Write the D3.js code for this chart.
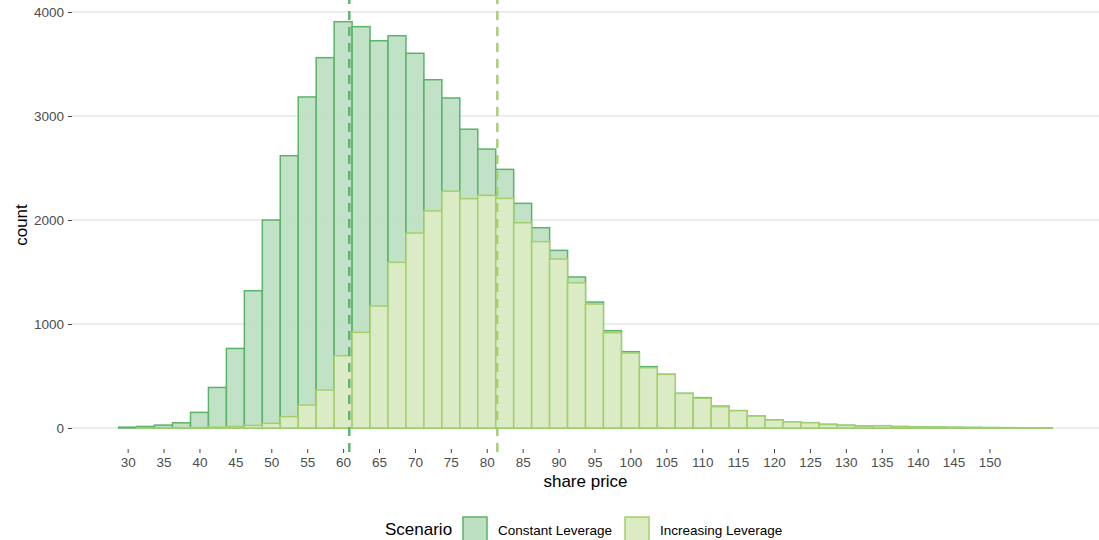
<!DOCTYPE html>
<html>
<head>
<meta charset="utf-8">
<script src="https://cdn.jsdelivr.net/npm/d3@7"></script>
<style>
  html, body { margin: 0; padding: 0; background: #fff; }
  svg { display: block; font-family: "Liberation Sans", Arial, sans-serif; }
</style>
</head>
<body>
<div id="chart"></div>
<script>
/* share price histogram: two leverage scenarios, bins 2.5 wide */
const priceBins = [30, 32.5, 35, 37.5, 40, 42.5, 45, 47.5, 50, 52.5, 55, 57.5, 60, 62.5, 65, 67.5,
  70, 72.5, 75, 77.5, 80, 82.5, 85, 87.5, 90, 92.5, 95, 97.5, 100, 102.5, 105, 107.5,
  110, 112.5, 115, 117.5, 120, 122.5, 125, 127.5, 130, 132.5, 135, 137.5, 140, 142.5,
  145, 147.5, 150, 152.5, 155, 157.5];
const constantCounts = [8, 15, 28, 50, 150, 390, 765, 1320, 2000, 2618, 3183, 3561, 3907, 3859, 3724, 3772,
  3603, 3349, 3173, 2873, 2682, 2487, 2160, 1926, 1708, 1452, 1211, 936, 734, 590, 516, 333,
  292, 210, 167, 115, 78, 58, 51, 35, 26, 18, 22, 14, 10, 8,
  6, 5, 4, 3, 2, 2];
const increasingCounts = [0, 1, 2, 3, 5, 8, 15, 25, 45, 109, 221, 365, 695, 920, 1173, 1593,
  1875, 2088, 2277, 2205, 2237, 2208, 1974, 1792, 1625, 1397, 1192, 916, 721, 580, 516, 333,
  287, 205, 167, 115, 77, 58, 51, 35, 26, 18, 22, 14, 10, 8,
  6, 5, 4, 3, 2, 2];
const scenarios = ["Constant Leverage", "Increasing Leverage"];
const scenarioMeans = [60.86, 81.47];
const xTicks = [30, 35, 40, 45, 50, 55, 60, 65, 70, 75, 80, 85, 90, 95, 100, 105, 110, 115, 120, 125, 130, 135, 140, 145, 150];
const yTicks = [0, 1000, 2000, 3000, 4000];
const BIN_W = 2.5;

const FILL = { "Constant Leverage": "#bde0c3", "Increasing Leverage": "#dcebc4" };
const LINE = { "Constant Leverage": "#5cb36a", "Increasing Leverage": "#a3d06c" };

const W = 1099, H = 540;
const panel = { left: 72, right: 1099, top: 1, bottom: 449 };

const svg = d3.select("#chart").append("svg")
  .attr("width", W).attr("height", H)
  .attr("viewBox", `0 0 ${W} ${H}`);

/* Scales (ggplot-style 5% expansion baked into the domains) */
const x = d3.scaleLinear().domain([22.25, 165.25]).range([panel.left, panel.right]);
const y = d3.scaleLinear().domain([0, 4000]).range([428, 12]);

/* Grid */
svg.append("g").selectAll("line").data(yTicks).enter().append("line")
  .attr("x1", panel.left).attr("x2", panel.right)
  .attr("y1", d => y(d)).attr("y2", d => y(d))
  .attr("stroke", "#dedede").attr("stroke-width", 1.1);

/* Bars: constant first, increasing drawn on top */
const series = scenarios.map((s, i) => ({
  name: s,
  bins: priceBins.map((p, j) => ({ p, n: (i === 0 ? constantCounts : increasingCounts)[j] }))
}));

series.forEach(s => {
  svg.append("g").selectAll("rect").data(s.bins).enter().append("rect")
    .attr("x", d => x(d.p - BIN_W / 2))
    .attr("width", d => x(d.p + BIN_W / 2) - x(d.p - BIN_W / 2))
    .attr("y", d => y(d.n))
    .attr("height", d => y(0) - y(d.n))
    .attr("fill", FILL[s.name])
    .attr("fill-opacity", 0.92)
    .attr("stroke", LINE[s.name])
    .attr("stroke-width", 1.5);
});

/* Mean lines */
svg.append("g").selectAll("line").data(scenarioMeans).enter().append("line")
  .attr("x1", d => x(d)).attr("x2", d => x(d))
  .attr("y1", panel.bottom + 3).attr("y2", panel.top - 1)
  .attr("stroke", (d, i) => LINE[scenarios[i]])
  .attr("stroke-width", 2.4)
  .attr("stroke-dasharray", "9,7");

/* Axes */
const xAxis = svg.append("g").attr("transform", `translate(0,${panel.bottom})`)
  .call(d3.axisBottom(x).tickValues(xTicks).tickSize(4).tickPadding(4));
xAxis.select(".domain").remove();
xAxis.selectAll("line").attr("stroke", "#444");
xAxis.selectAll("text").style("font-size", "13.5px").style("fill", "#4d4d4d")
  .style("font-family", "Liberation Sans, Arial, sans-serif");

const yAxis = svg.append("g").attr("transform", `translate(${panel.left},0)`)
  .call(d3.axisLeft(y).tickValues(yTicks).tickFormat(d3.format("d")).tickSize(4).tickPadding(4));
yAxis.select(".domain").remove();
yAxis.selectAll("line").attr("stroke", "#444");
yAxis.selectAll("text").style("font-size", "13.5px").style("fill", "#4d4d4d")
  .style("font-family", "Liberation Sans, Arial, sans-serif");

/* Axis titles */
svg.append("text").attr("x", (panel.left + panel.right) / 2).attr("y", 487)
  .attr("text-anchor", "middle").style("font-size", "17px").style("fill", "#000")
  .text("share price");

svg.append("text").attr("transform", "rotate(-90)")
  .attr("x", -(panel.top + panel.bottom) / 2).attr("y", 27)
  .attr("text-anchor", "middle").style("font-size", "17px").style("fill", "#000")
  .text("count");

/* Legend */
const legend = svg.append("g");
legend.append("text").attr("x", 385).attr("y", 535)
  .style("font-size", "17px").style("fill", "#000").text("Scenario");

const keyX = [463, 625];
scenarios.forEach((s, i) => {
  legend.append("rect").attr("x", keyX[i]).attr("y", 517).attr("width", 24).attr("height", 24)
    .attr("fill", FILL[s]).attr("stroke", LINE[s]).attr("stroke-width", 1.5);
  legend.append("text").attr("x", keyX[i] + 35).attr("y", 535)
    .style("font-size", "13.5px").style("fill", "#000").text(s);
});
</script>
</body>
</html>
